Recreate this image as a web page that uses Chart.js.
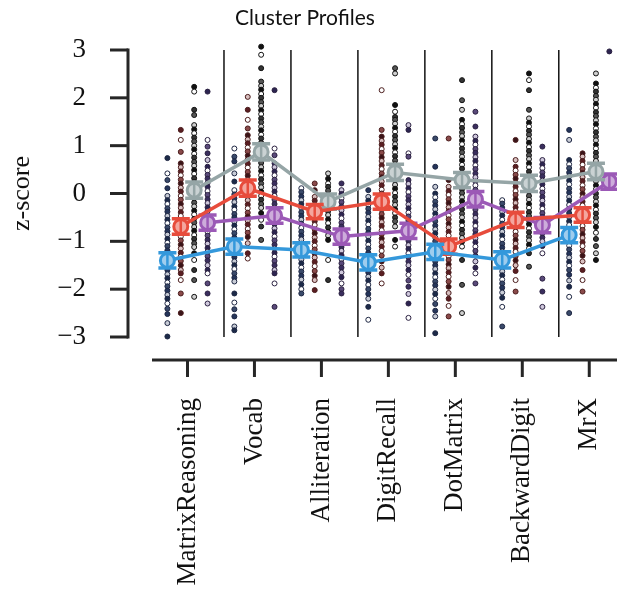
<!DOCTYPE html>
<html><head><meta charset="utf-8">
<script src="https://cdn.jsdelivr.net/npm/chart.js@4.4.1/dist/chart.umd.min.js"></script>
<style>html,body{margin:0;padding:0;background:#fff;overflow:hidden}</style>
</head><body><canvas id="c" width="617" height="596"></canvas>
<script>
const categories = ["MatrixReasoning","Vocab","Alliteration","DigitRecall","DotMatrix","BackwardDigit","MrX"];
const yTicks = [-3,-2,-1,0,1,2,3];

// cluster means
const meanBlue   = [-1.40,-1.11,-1.18,-1.44,-1.22,-1.39,-0.87];
const meanRed    = [-0.69, 0.11,-0.38,-0.17,-1.11,-0.55,-0.45];
const meanPurple = [-0.61,-0.46,-0.90,-0.78,-0.12,-0.66, 0.25];
const meanGray   = [ 0.07, 0.87,-0.17, 0.44, 0.28, 0.21, 0.46];
// standard errors
const errBlue   = [0.16,0.16,0.15,0.16,0.16,0.17,0.16];
const errRed    = [0.16,0.17,0.15,0.16,0.16,0.16,0.15];
const errPurple = [0.16,0.16,0.16,0.16,0.16,0.16,0.16];
const errGray   = [0.17,0.17,0.16,0.17,0.16,0.17,0.17];

// individual scores per cluster, per test
const dotsBlue = [
 [0.74,0.42,0.28,0.11,-0.05,-0.14,-0.22,-0.31,-0.38,-0.47,-0.55,-0.62,-0.71,-0.79,-0.86,-0.95,-1.03,-1.1,-1.19,-1.27,-1.35,-1.44,-1.52,-1.6,-1.69,-1.77,-1.86,-1.94,-2.03,-2.12,-2.2,-2.3,-2.41,-2.52,-2.71,-2.99],
 [0.94,0.77,0.67,0.42,0.25,0.07,-0.02,-0.1,-0.18,-0.27,-0.34,-0.43,-0.5,-0.59,-0.67,-0.75,-0.83,-0.92,-1.0,-1.08,-1.17,-1.25,-1.33,-1.42,-1.5,-1.58,-1.67,-1.76,-1.84,-2.09,-2.28,-2.42,-2.57,-2.78,-2.86],
 [0.11,0.03,-0.06,-0.14,-0.22,-0.3,-0.39,-0.47,-0.55,-0.63,-0.72,-0.8,-0.88,-0.96,-1.05,-1.13,-1.21,-1.3,-1.38,-1.46,-1.55,-1.63,-1.72,-1.8,-1.9,-2.0,-2.09],
 [0.07,-0.07,-0.15,-0.24,-0.32,-0.4,-0.49,-0.57,-0.65,-0.74,-0.82,-0.9,-0.99,-1.07,-1.15,-1.24,-1.32,-1.4,-1.49,-1.57,-1.65,-1.74,-1.82,-1.91,-2.0,-2.1,-2.2,-2.37,-2.64],
 [1.15,0.56,0.14,0.0,-0.08,-0.17,-0.25,-0.33,-0.42,-0.5,-0.58,-0.67,-0.75,-0.83,-0.92,-1.0,-1.08,-1.17,-1.25,-1.33,-1.42,-1.5,-1.58,-1.67,-1.75,-1.84,-1.92,-2.01,-2.1,-2.2,-2.31,-2.45,-2.57,-2.92],
 [-0.14,-0.21,-0.3,-0.38,-0.46,-0.55,-0.63,-0.71,-0.8,-0.88,-0.96,-1.05,-1.13,-1.21,-1.3,-1.38,-1.46,-1.55,-1.63,-1.71,-1.8,-1.88,-1.97,-2.07,-2.18,-2.37,-2.78],
 [1.33,1.12,0.7,0.61,0.53,0.44,0.36,0.27,0.19,0.1,0.02,-0.07,-0.15,-0.24,-0.32,-0.41,-0.49,-0.58,-0.66,-0.75,-0.83,-0.92,-1.0,-1.09,-1.17,-1.26,-1.34,-1.43,-1.51,-1.6,-1.7,-1.82,-1.95,-2.16,-2.5]
];
const dotsRed = [
 [1.33,1.12,0.87,0.63,0.55,0.46,0.38,0.29,0.21,0.12,0.04,-0.05,-0.13,-0.22,-0.3,-0.39,-0.47,-0.56,-0.64,-0.73,-0.81,-0.9,-0.98,-1.07,-1.15,-1.24,-1.32,-1.41,-1.5,-1.6,-1.67,-1.81,-2.09,-2.5],
 [2.02,1.75,1.54,1.36,1.22,1.13,1.05,0.96,0.88,0.79,0.71,0.62,0.54,0.45,0.37,0.28,0.2,0.11,0.03,-0.06,-0.14,-0.23,-0.31,-0.4,-0.48,-0.57,-0.65,-0.74,-0.82,-0.91,-1.04,-1.25,-1.36],
 [0.21,0.07,-0.07,-0.15,-0.24,-0.32,-0.41,-0.49,-0.58,-0.66,-0.75,-0.83,-0.92,-1.0,-1.09,-1.17,-1.26,-1.34,-1.43,-1.52,-1.62,-1.72,-1.81,-2.02],
 [2.16,1.33,1.19,1.1,1.02,0.93,0.85,0.76,0.68,0.59,0.51,0.42,0.34,0.25,0.17,0.08,0.0,-0.09,-0.17,-0.26,-0.34,-0.43,-0.51,-0.6,-0.68,-0.77,-0.85,-0.94,-1.02,-1.11,-1.2,-1.3,-1.42,-1.55,-1.67,-1.88],
 [1.15,0.28,0.14,0.05,-0.03,-0.12,-0.2,-0.29,-0.37,-0.46,-0.54,-0.63,-0.71,-0.8,-0.88,-0.97,-1.05,-1.14,-1.22,-1.31,-1.39,-1.48,-1.56,-1.65,-1.74,-1.84,-1.95,-2.08,-2.2,-2.35,-2.57],
 [1.12,0.7,0.56,0.48,0.39,0.31,0.22,0.14,0.05,-0.03,-0.12,-0.2,-0.29,-0.37,-0.46,-0.54,-0.63,-0.71,-0.8,-0.88,-0.97,-1.05,-1.14,-1.22,-1.31,-1.4,-1.5,-1.62,-1.81,-2.05],
 [0.84,0.77,0.68,0.6,0.51,0.43,0.34,0.26,0.17,0.09,0.0,-0.08,-0.17,-0.25,-0.34,-0.42,-0.51,-0.59,-0.68,-0.76,-0.85,-0.93,-1.02,-1.1,-1.2,-1.3,-1.42,-1.6,-1.81,-2.05]
];
const dotsGray = [
 [2.23,2.13,1.75,1.64,1.43,1.34,1.26,1.17,1.09,1.0,0.92,0.83,0.75,0.66,0.58,0.49,0.41,0.32,0.24,0.15,0.07,-0.02,-0.1,-0.19,-0.27,-0.36,-0.44,-0.53,-0.61,-0.7,-0.78,-0.87,-0.95,-1.04,-1.12,-1.25,-1.39,-1.6,-1.81,-2.16],
 [3.07,2.9,2.62,2.34,2.25,2.17,2.08,2.0,1.91,1.83,1.74,1.66,1.57,1.49,1.4,1.32,1.23,1.15,1.06,0.98,0.89,0.81,0.72,0.64,0.55,0.47,0.38,0.3,0.21,0.13,0.04,-0.05,-0.13,-0.22,-0.3,-0.41,-0.55,-0.69,-0.97],
 [0.42,0.31,0.21,0.14,0.06,-0.03,-0.11,-0.2,-0.28,-0.37,-0.45,-0.54,-0.62,-0.71,-0.8,-0.88,-0.97,-1.39,-1.81],
 [2.62,2.51,1.85,1.71,1.6,1.54,1.46,1.37,1.29,1.2,1.12,1.03,0.95,0.86,0.78,0.69,0.61,0.52,0.44,0.35,0.27,0.18,0.1,0.01,-0.07,-0.16,-0.24,-0.33,-0.41,-0.5,-0.58,-0.69,-0.97,-1.11],
 [2.37,1.95,1.75,1.54,1.45,1.37,1.28,1.2,1.11,1.03,0.94,0.86,0.77,0.69,0.6,0.52,0.43,0.35,0.26,0.18,0.09,0.01,-0.08,-0.16,-0.25,-0.33,-0.42,-0.5,-0.59,-0.67,-0.76,-0.84,-0.93,-1.01,-1.11,-1.39,-1.91,-2.5],
 [2.51,2.37,2.16,1.75,1.57,1.48,1.4,1.31,1.23,1.14,1.06,0.97,0.89,0.8,0.72,0.63,0.55,0.46,0.38,0.29,0.21,0.12,0.04,-0.05,-0.13,-0.22,-0.3,-0.39,-0.47,-0.56,-0.64,-0.73,-0.81,-0.9,-0.98,-1.07,-1.15,-1.25,-1.53],
 [2.51,2.3,2.21,2.13,2.04,1.96,1.87,1.79,1.7,1.62,1.53,1.45,1.36,1.28,1.19,1.11,1.02,0.94,0.85,0.77,0.68,0.6,0.51,0.43,0.34,0.26,0.17,0.09,0.0,-0.08,-0.17,-0.25,-0.34,-0.42,-0.51,-0.6,-0.7,-0.82,-0.95,-1.1,-1.25,-1.39]
];
const dotsPurple = [
 [2.13,1.12,0.98,0.84,0.7,0.56,0.48,0.39,0.31,0.22,0.14,0.05,-0.03,-0.12,-0.2,-0.29,-0.37,-0.46,-0.54,-0.63,-0.71,-0.8,-0.88,-0.97,-1.05,-1.14,-1.22,-1.31,-1.4,-1.5,-1.6,-1.67,-1.88,-2.09,-2.3],
 [2.16,0.94,0.8,0.63,0.55,0.46,0.38,0.29,0.21,0.12,0.04,-0.05,-0.13,-0.22,-0.3,-0.39,-0.47,-0.56,-0.64,-0.73,-0.81,-0.9,-0.98,-1.07,-1.15,-1.24,-1.32,-1.41,-1.5,-1.6,-1.67,-1.88,-2.37],
 [0.21,0.07,-0.01,-0.1,-0.18,-0.27,-0.35,-0.44,-0.52,-0.61,-0.69,-0.78,-0.86,-0.95,-1.03,-1.12,-1.2,-1.29,-1.37,-1.46,-1.55,-1.65,-1.75,-1.88,-2.0,-2.09],
 [1.43,1.33,0.84,0.77,0.28,0.2,0.11,0.03,-0.06,-0.14,-0.23,-0.31,-0.4,-0.48,-0.57,-0.65,-0.74,-0.82,-0.91,-0.99,-1.08,-1.16,-1.25,-1.33,-1.42,-1.5,-1.6,-1.7,-1.82,-1.95,-2.1,-2.3,-2.6],
 [1.71,1.4,1.19,1.1,1.02,0.93,0.85,0.76,0.68,0.59,0.51,0.42,0.34,0.25,0.17,0.08,0.0,-0.09,-0.17,-0.26,-0.34,-0.43,-0.51,-0.6,-0.68,-0.77,-0.85,-0.94,-1.02,-1.11,-1.2,-1.3,-1.42,-1.55,-1.67,-1.88],
 [0.98,0.7,0.61,0.53,0.44,0.36,0.27,0.19,0.1,0.02,-0.07,-0.15,-0.24,-0.32,-0.41,-0.49,-0.58,-0.66,-0.75,-0.83,-0.92,-1.0,-1.1,-1.25,-1.78,-2.05,-2.37],
 [2.97,2.51,2.16,2.07,1.99,1.9,1.82,1.73,1.65,1.56,1.48,1.39,1.31,1.22,1.14,1.05,0.97,0.88,0.8,0.71,0.63,0.54,0.46,0.37,0.29,0.2,0.12,0.03,-0.05,-0.14,-0.22,-0.31,-0.39,-0.48,-0.56,-0.65,-0.73,-0.82,-0.9,-1.0,-1.1,-1.22,-1.35,-1.5,-1.67,-1.95]
];

// styling
const clusters = [
  {mean: meanBlue,   err: errBlue,   dots: dotsBlue,   off: -0.3, color:'#3498db', fill:'#9fcdee', dotEdge:'#1c2541', dotFills:['#1c2a48','#ffffff','#3a4a6a','#25355a','#c8ccd6']},
  {mean: meanRed,    err: errRed,    dots: dotsRed,    off: -0.1, color:'#e74c3c', fill:'#f4a69e', dotEdge:'#4a1c1c', dotFills:['#5a1e22','#ffffff','#8a4a4a','#3a1418','#d8c0c0']},
  {mean: meanGray,   err: errGray,   dots: dotsGray,   off:  0.1, color:'#95a5a6', fill:'#cad2d3', dotEdge:'#111111', dotFills:['#111111','#ffffff','#333333','#555555','#cfcfcf']},
  {mean: meanPurple, err: errPurple, dots: dotsPurple, off:  0.3, color:'#9b59b6', fill:'#cdacdb', dotEdge:'#2a2040', dotFills:['#2c2450','#ffffff','#5a4a7a','#3a2e5e','#cfc8dc']}
];
const sepOffset = 0.545;
const serif = "'Liberation Serif', 'DejaVu Serif', serif";

const datasets = [];
clusters.forEach(c => {
  datasets.push({
    type:'scatter', order: 2, clip: false,
    data: c.dots.flatMap((vals,i)=>vals.map(v=>({x:i+c.off, y:v}))),
    pointRadius: 2.5, pointBorderWidth: 1,
    pointBorderColor: c.dotEdge,
    pointBackgroundColor: ctx => c.dotFills[ctx.dataIndex % c.dotFills.length]
  });
});
clusters.forEach(c => {
  datasets.push({
    type:'line', order: 1, clip: false, isMean: true, errs: c.err, lineColor: c.color,
    data: c.mean.map((v,i)=>({x:i+c.off, y:v})),
    borderColor: c.color, borderWidth: 3.5, tension: 0,
    pointStyle:'circle', pointRadius: 7, pointBorderWidth: 3,
    pointBorderColor: c.color, pointBackgroundColor: c.fill
  });
});

const noPad = s => { s.paddingLeft = 0; s.paddingRight = 0; s.paddingTop = 0; s.paddingBottom = 0; };

const decor = {
  id:'decor',
  beforeDatasetsDraw(chart){
    const {ctx, scales:{x,y}} = chart;
    ctx.save();
    ctx.strokeStyle = '#111'; ctx.lineWidth = 1.5;
    for (let i=0;i<categories.length-1;i++){
      const px = x.getPixelForValue(i+sepOffset);
      ctx.beginPath(); ctx.moveTo(px, y.getPixelForValue(3)); ctx.lineTo(px, y.getPixelForValue(-3)); ctx.stroke();
    }
    ctx.strokeStyle = '#262626'; ctx.lineWidth = 3; ctx.lineCap = 'butt';
    const sx = chart.chartArea.left - 24;
    ctx.beginPath(); ctx.moveTo(sx, y.getPixelForValue(3)-1.5); ctx.lineTo(sx, y.getPixelForValue(-3)+1.5); ctx.stroke();
    yTicks.forEach(t=>{
      const py = y.getPixelForValue(t);
      ctx.beginPath(); ctx.moveTo(sx-18, py); ctx.lineTo(sx, py); ctx.stroke();
    });
    const sy = chart.chartArea.bottom + 23;
    ctx.beginPath(); ctx.moveTo(chart.chartArea.left, sy); ctx.lineTo(chart.width, sy); ctx.stroke();
    categories.forEach((c,i)=>{
      const px = x.getPixelForValue(i);
      ctx.beginPath(); ctx.moveTo(px, sy); ctx.lineTo(px, sy+17); ctx.stroke();
    });
    ctx.restore();
  },
  afterDatasetDraw(chart, args){
    const ds = chart.data.datasets[args.index];
    if (!ds.isMean) return;
    const {ctx, scales:{x,y}} = chart;
    ctx.save();
    ctx.strokeStyle = ds.lineColor;
    ds.data.forEach((p,i)=>{
      const px = x.getPixelForValue(p.x);
      const top = y.getPixelForValue(p.y + ds.errs[i]);
      const bot = y.getPixelForValue(p.y - ds.errs[i]);
      ctx.lineWidth = 2.5;
      ctx.beginPath(); ctx.moveTo(px, top); ctx.lineTo(px, bot); ctx.stroke();
      ctx.lineWidth = 3.5;
      ctx.beginPath(); ctx.moveTo(px-9, top); ctx.lineTo(px+9, top); ctx.moveTo(px-9, bot); ctx.lineTo(px+9, bot); ctx.stroke();
    });
    ctx.restore();
  }
};

new Chart(document.getElementById('c'), {
  type:'scatter',
  data:{datasets},
  options:{
    responsive:false, animation:false,
    layout:{padding:{left:0,right:7,top:0,bottom:0}},
    plugins:{
      legend:{display:false}, tooltip:{enabled:false},
      title:{display:true, text:'Cluster Profiles', color:'#111',
        font:{family:"Lato, 'Open Sans', sans-serif", size:21, weight:'normal', lineHeight:1.2},
        padding:{top:6,bottom:18.8}}
    },
    scales:{
      x:{type:'linear', min:-0.53, max:6.265,
        afterBuildTicks: s => { s.ticks = categories.map((_,i)=>({value:i})); },
        afterFit: s => { s.height = 259; noPad(s); },
        grid:{display:false, drawTicks:false}, border:{display:false},
        ticks:{autoSkip:false, minRotation:90, maxRotation:90, padding:61, color:'#111',
          font:{family:serif, size:27}, callback: v => categories[v]}
      },
      y:{type:'linear', min:-3, max:3,
        afterBuildTicks: s => { s.ticks = yTicks.map(v=>({value:v})); },
        afterFit: s => { s.width = 152; noPad(s); },
        grid:{display:false, drawTicks:false}, border:{display:false},
        ticks:{padding:66, color:'#111', font:{family:serif, size:27},
          callback: v => v < 0 ? '\u2212' + Math.abs(v) : String(v)},
        title:{display:true, text:'z-score', color:'#111', font:{family:serif, size:26}, padding:{top:7,bottom:0}}
      }
    }
  },
  plugins:[decor]
});
</script></body></html>
